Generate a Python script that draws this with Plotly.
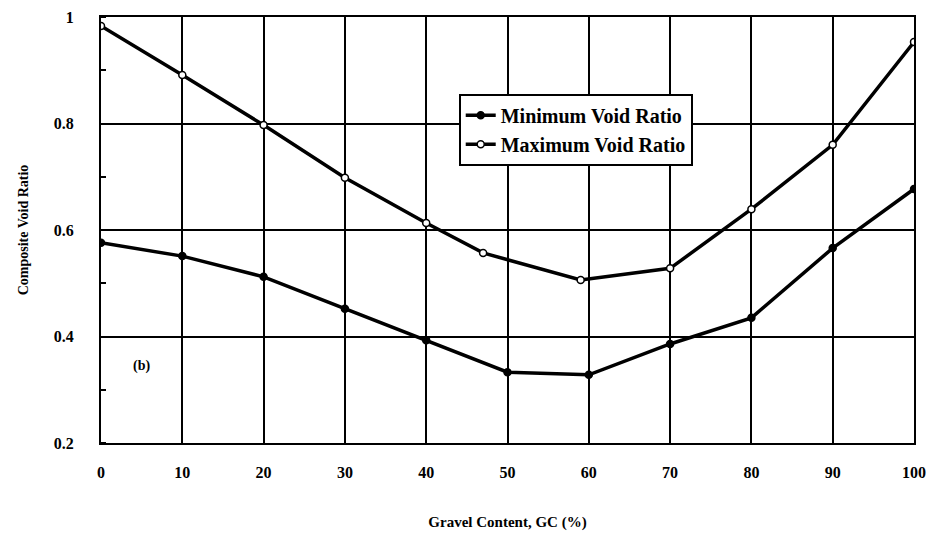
import plotly.graph_objects as go

gc_max = [0, 10, 20, 30, 40, 47, 59, 70, 80, 90, 100]
e_max = [0.983, 0.891, 0.797, 0.698, 0.613, 0.557, 0.506, 0.528, 0.639, 0.760, 0.953]
gc_min = [0, 10, 20, 30, 40, 50, 60, 70, 80, 90, 100]
e_min = [0.576, 0.551, 0.512, 0.452, 0.393, 0.333, 0.328, 0.386, 0.435, 0.566, 0.677]
x_ticks = [0, 10, 20, 30, 40, 50, 60, 70, 80, 90, 100]
x_tick_labels = ["0", "10", "20", "30", "40", "50", "60", "70", "80", "90", "100"]
y_ticks = [0.2, 0.4, 0.6, 0.8, 1.0]
y_tick_labels = ["0.2", "0.4", "0.6", "0.8", "1"]

FONT = "Liberation Serif, Times New Roman, serif"

fig = go.Figure()
fig.add_trace(go.Scatter(
    x=gc_min, y=e_min, mode="lines+markers", name="<b>Minimum Void Ratio</b>",
    line=dict(color="black", width=3.5),
    marker=dict(symbol="circle", size=7, color="black", line=dict(color="black", width=1.5)),
))
fig.add_trace(go.Scatter(
    x=gc_max, y=e_max, mode="lines+markers", name="<b>Maximum Void Ratio</b>",
    line=dict(color="black", width=3.5),
    marker=dict(symbol="circle", size=7, color="white", line=dict(color="black", width=1.5)),
))

fig.add_annotation(x=5, y=0.345, text="<b>(b)</b>", showarrow=False,
                   font=dict(family=FONT, size=14, color="black"))

fig.update_layout(
    width=930, height=533,
    margin=dict(l=101, r=16, t=17, b=90, autoexpand=False),
    paper_bgcolor="white", plot_bgcolor="white",
    font=dict(family=FONT, size=14, color="black"),
    legend=dict(
        x=0.44, y=0.82, xanchor="left", yanchor="top",
        bgcolor="white", bordercolor="black", borderwidth=2,
        font=dict(family=FONT, size=20, color="black"),
        itemwidth=30, tracegroupgap=0,
    ),
    xaxis=dict(
        range=[0, 100], tickvals=x_ticks, ticktext=["<b>%s</b>" % t for t in x_tick_labels],
        showgrid=True, gridcolor="black", gridwidth=1.5,
        showline=True, linecolor="black", linewidth=2, mirror=True,
        ticks="", ticklabelstandoff=14, zeroline=False, automargin=False,
        ticklabeloverflow="allow",
        tickfont=dict(family=FONT, size=16, color="black"),
        title=dict(text="<b>Gravel Content, GC (%)</b>", standoff=36,
                   font=dict(family=FONT, size=15, color="black")),
    ),
    yaxis=dict(
        range=[0.2, 1.0], tickvals=y_ticks, ticktext=["<b>%s</b>" % t for t in y_tick_labels],
        showgrid=True, gridcolor="black", gridwidth=1.5,
        showline=True, linecolor="black", linewidth=2, mirror=True,
        ticks="", ticklabelstandoff=22, zeroline=False, automargin=False,
        tickfont=dict(family=FONT, size=16, color="black"),
        minor=dict(dtick=0.1, tick0=0.2, ticks="inside", ticklen=5, tickcolor="black", tickwidth=1.5, showgrid=False),
        title=dict(text="<b>Composite Void Ratio</b>", standoff=22,
                   font=dict(family=FONT, size=14, color="black")),
    ),
)

fig.write_html("out.html")
